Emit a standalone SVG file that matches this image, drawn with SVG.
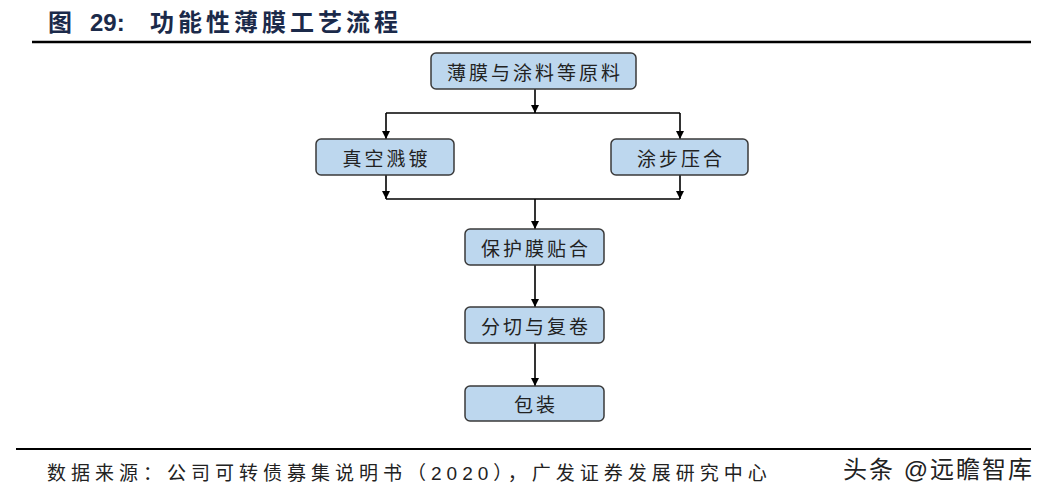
<svg xmlns="http://www.w3.org/2000/svg" width="1051" height="500" viewBox="0 0 1051 500">
<defs>
<marker id="ah" viewBox="0 0 10 10" refX="10" refY="5" markerWidth="8" markerHeight="8" markerUnits="userSpaceOnUse" orient="auto">
<path d="M0,0 L10,5 L0,10 z" fill="#000"/>
</marker>
</defs>
<style>
.node rect{fill:#bdd7ee;stroke:#3a3a3a;stroke-width:1.5}
.node text{font-family:"Noto Sans CJK SC",sans-serif;font-size:19px;letter-spacing:3px;fill:#222;text-anchor:middle;dominant-baseline:central}
.ln{stroke:#000;stroke-width:1.6;fill:none}
.ar{stroke:#000;stroke-width:1.6;fill:none;marker-end:url(#ah)}
.ttl{font-family:'Liberation Sans','Noto Sans CJK SC',sans-serif;font-size:24px;font-weight:bold;fill:#1b2a4a}
.ft{font-family:'Liberation Sans','Noto Sans CJK SC',sans-serif;fill:#222}
</style>
<rect width="1051" height="500" fill="#fff"/>
<text class="ttl" x="48" y="31">图</text>
<text class="ttl" x="90" y="31">29:</text>
<text class="ttl" x="150" y="31" letter-spacing="4">功能性薄膜工艺流程</text>
<line x1="32" y1="42" x2="1031" y2="42" stroke="#000" stroke-width="2.5"/>
<g id="connectors">
<line class="ar" x1="535" y1="89" x2="535" y2="113"/>
<line class="ln" x1="386" y1="113" x2="680" y2="113"/>
<line class="ar" x1="386" y1="113" x2="386" y2="139"/>
<line class="ar" x1="680" y1="113" x2="680" y2="139"/>
<line class="ar" x1="386" y1="175" x2="386" y2="199"/>
<line class="ar" x1="680" y1="175" x2="680" y2="199"/>
<line class="ln" x1="386" y1="199" x2="680" y2="199"/>
<line class="ar" x1="535" y1="199" x2="535" y2="229"/>
<line class="ar" x1="535" y1="265" x2="535" y2="307"/>
<line class="ar" x1="535" y1="343" x2="535" y2="386"/>
</g>
<g id="n1" class="node"><rect x="431" y="53" width="205" height="36" rx="5"/><text x="535" y="71">薄膜与涂料等原料</text></g>
<g id="n2" class="node"><rect x="316" y="139" width="138" height="36" rx="5"/><text x="386.5" y="157">真空溅镀</text></g>
<g id="n3" class="node"><rect x="611" y="139" width="137" height="36" rx="5"/><text x="681" y="157">涂步压合</text></g>
<g id="n4" class="node"><rect x="465" y="229" width="139" height="36" rx="5"/><text x="536" y="247">保护膜贴合</text></g>
<g id="n5" class="node"><rect x="465" y="307" width="139" height="36" rx="5"/><text x="536" y="325">分切与复卷</text></g>
<g id="n6" class="node"><rect x="465" y="386" width="139" height="35" rx="5"/><text x="536" y="403.5">包装</text></g>
<line x1="16" y1="449" x2="1031" y2="449" stroke="#000" stroke-width="2"/>
<text class="ft" x="47" y="480" font-size="19" letter-spacing="5">数据来源：公司可转债募集说明书（2020），广发证券发展研究中心</text>
<text class="ft" x="843" y="478" font-size="24" letter-spacing="2">头条 @远瞻智库</text>
</svg>
